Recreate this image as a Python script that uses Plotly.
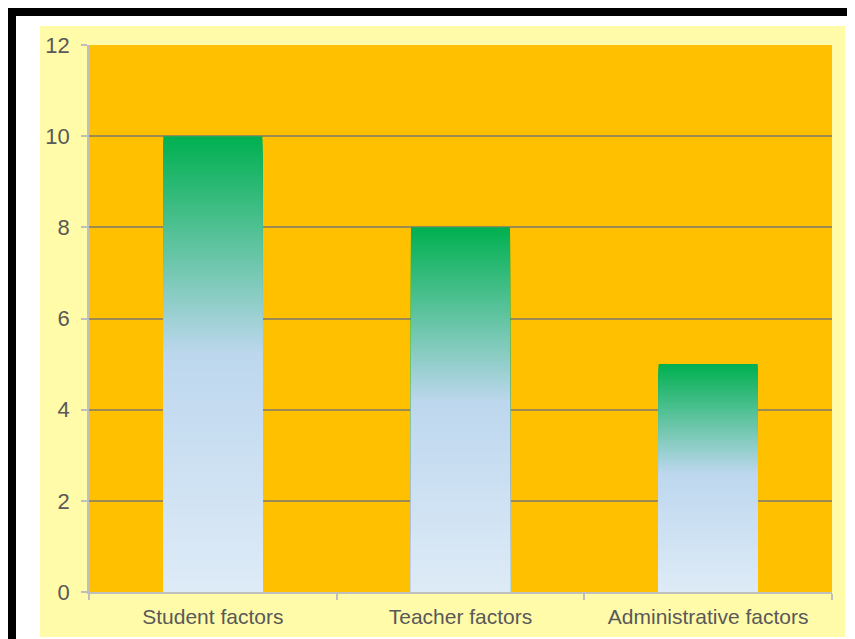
import plotly.graph_objects as go

categories = ["Student factors", "Teacher factors", "Administrative factors"]
values = [10, 8, 5]
y_ticks = [0, 2, 4, 6, 8, 10, 12]

W, H = 855, 639
OFF = 8  # page body margin offset
L, R, T, B = 89 - OFF, W - (832 - OFF), 45 - OFF, H - (592 - OFF)
pw, ph = W - L - R, H - T - B


def px_x(x):
    return (x - OFF - L) / pw


def px_y(y):
    return (H - B - (y - OFF)) / ph


def hx(c):
    c = c.lstrip("#")
    return [int(c[i:i + 2], 16) for i in (0, 2, 4)]


stops = [(0.0, hx("#00B050")), (0.48, hx("#BDD7EE")), (1.0, hx("#DEEBF7"))]


def color_at(t):  # t = fraction from top of bar
    for (t0, c0), (t1, c1) in zip(stops[:-1], stops[1:]):
        if t <= t1:
            f = (t - t0) / (t1 - t0) if t1 > t0 else 0
            return "rgb(%d,%d,%d)" % tuple(round(a + (b - a) * f) for a, b in zip(c0, c1))
    return "rgb(%d,%d,%d)" % tuple(stops[-1][1])


N = 120
fig = go.Figure()
for k in range(N, 0, -1):
    frac = k / N
    fig.add_trace(go.Bar(
        x=categories,
        y=[v * frac for v in values],
        base=0,
        width=0.4,
        marker=dict(color=color_at(1 - frac + 0.5 / N), line=dict(width=0)),
        showlegend=False,
        hoverinfo="skip",
    ))

shapes = [
    # black border bands
    dict(type="rect", xref="paper", yref="paper", x0=px_x(8), x1=px_x(W + 20), y0=px_y(8), y1=px_y(16),
         fillcolor="#000000", line=dict(width=0), layer="below"),
    dict(type="rect", xref="paper", yref="paper", x0=px_x(8), x1=px_x(16), y0=px_y(8), y1=px_y(H + 20),
         fillcolor="#000000", line=dict(width=0), layer="below"),
    # yellow chart area
    dict(type="rect", xref="paper", yref="paper", x0=px_x(40), x1=px_x(845), y0=px_y(26), y1=px_y(637),
         fillcolor="#FFFBA8", line=dict(width=0), layer="below"),
    # orange plot area
    dict(type="rect", xref="paper", yref="paper", x0=0, x1=1, y0=0, y1=1,
         fillcolor="#FFC000", line=dict(width=0), layer="below"),
]

fig.update_layout(
    width=W, height=H,
    margin=dict(l=L, r=R, t=T, b=B, pad=0),
    paper_bgcolor="#FFFFFF",
    plot_bgcolor="#FFC000",
    barmode="overlay",
    shapes=shapes,
    font=dict(family="Liberation Sans, Arial, sans-serif", size=21, color="#595959"),
    xaxis=dict(
        showgrid=False,
        showline=True, linecolor="#BFBFBF", linewidth=1.5,
        ticks="outside", tickson="boundaries", ticklen=6, tickcolor="#BFBFBF", tickwidth=1.5,
        tickfont=dict(size=21, color="#595959"),
        ticklabelstandoff=5,
    ),
    yaxis=dict(
        range=[0, 12],
        tickvals=y_ticks,
        showgrid=True, gridcolor="#9C8A55", gridwidth=1.5,
        zeroline=False,
        showline=True, linecolor="#BFBFBF", linewidth=1.5,
        ticks="outside", ticklen=6, tickcolor="#BFBFBF", tickwidth=1.5,
        tickfont=dict(size=22, color="#595959"),
        ticklabelstandoff=7,
    ),
)

fig.write_html("out.html")
